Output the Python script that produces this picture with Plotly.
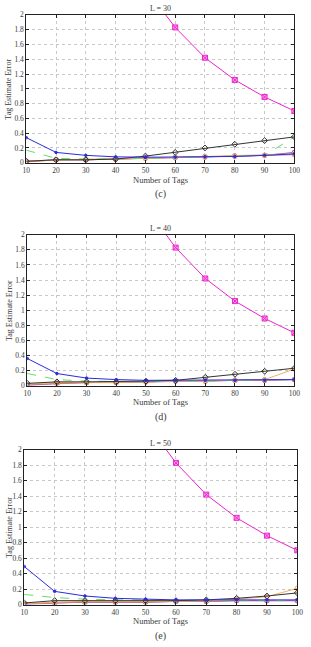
import plotly.graph_objects as go

tags = [10, 20, 30, 40, 50, 60, 70, 80, 90, 100]
x_ticks = [10, 20, 30, 40, 50, 60, 70, 80, 90, 100]
y_ticks = [0, 0.2, 0.4, 0.6, 0.8, 1, 1.2, 1.4, 1.6, 1.8, 2]
y_tick_text = ["0", "0.2", "0.4", "0.6", "0.8", "1", "1.2", "1.4", "1.6", "1.8", "2"]

# magenta curve (same in every panel; off-scale before 60)
magenta = [6.0, 4.9, 3.9, 3.05, 2.36, 1.83, 1.42, 1.12, 0.89, 0.70]

# L = 30
l30_blue = [0.34, 0.14, 0.10, 0.08, 0.075, 0.075, 0.08, 0.085, 0.10, 0.12]
l30_green = [0.17, 0.06, 0.05, 0.05, 0.06, 0.07, 0.08, 0.09, 0.10, 0.35]
l30_black = [0.02, 0.04, 0.04, 0.05, 0.09, 0.14, 0.20, 0.25, 0.30, 0.35]
l30_orange = [0.02, 0.04, 0.05, 0.05, 0.06, 0.07, 0.08, 0.09, 0.10, 0.12]
l30_red = [0.01, 0.04, 0.04, 0.05, 0.06, 0.07, 0.08, 0.09, 0.10, 0.11]
l30_purple = [0.02, 0.04, 0.04, 0.05, 0.06, 0.07, 0.08, 0.09, 0.10, 0.14]

# L = 40
l40_blue = [0.36, 0.16, 0.10, 0.08, 0.07, 0.07, 0.07, 0.07, 0.07, 0.08]
l40_green = [0.16, 0.08, 0.06, 0.05, 0.05, 0.06, 0.06, 0.07, 0.07, 0.08]
l40_black = [0.03, 0.05, 0.05, 0.05, 0.06, 0.07, 0.11, 0.15, 0.19, 0.23]
l40_orange = [0.02, 0.04, 0.04, 0.04, 0.05, 0.06, 0.06, 0.07, 0.08, 0.22]
l40_red = [0.01, 0.03, 0.04, 0.04, 0.05, 0.06, 0.06, 0.07, 0.07, 0.08]
l40_purple = [0.0, 0.03, 0.04, 0.04, 0.05, 0.06, 0.06, 0.07, 0.07, 0.08]

# L = 50
l50_blue = [0.49, 0.17, 0.11, 0.08, 0.07, 0.06, 0.06, 0.06, 0.06, 0.06]
l50_green = [0.13, 0.09, 0.07, 0.06, 0.06, 0.05, 0.05, 0.05, 0.05, 0.05]
l50_black = [0.02, 0.05, 0.05, 0.05, 0.05, 0.05, 0.06, 0.08, 0.11, 0.15]
l50_orange = [0.01, 0.03, 0.04, 0.04, 0.04, 0.04, 0.05, 0.07, 0.10, 0.21]
l50_red = [0.01, 0.02, 0.03, 0.03, 0.03, 0.04, 0.04, 0.05, 0.05, 0.05]
l50_purple = [0.0, 0.02, 0.03, 0.03, 0.03, 0.04, 0.04, 0.05, 0.05, 0.05]

titles = ["L = 30", "L = 40", "L = 50"]
captions = ["(c)", "(d)", "(e)"]

panels = [
    dict(blue=l30_blue, green=l30_green, black=l30_black, orange=l30_orange, red=l30_red, purple=l30_purple),
    dict(blue=l40_blue, green=l40_green, black=l40_black, orange=l40_orange, red=l40_red, purple=l40_purple),
    dict(blue=l50_blue, green=l50_green, black=l50_black, orange=l50_orange, red=l50_red, purple=l50_purple),
]

W, H = 311, 647
# plot area pixel boxes (left, right, top, bottom)
boxes = [(23, 300, 11, 161), (24, 300, 234, 387), (21, 303, 452, 609)]

FONT = "Liberation Serif"
TXT = "#3a3a3a"
fig = go.Figure()

styles = {
    "purple": dict(color="#9a4fe0", symbol="circle-open", dash="solid"),
    "red": dict(color="#c8707a", symbol="circle-open", dash="solid"),
    "orange": dict(color="#f0b060", symbol="circle-open", dash="solid"),
    "green": dict(color="#66dd66", symbol="circle", dash="dash"),
    "black": dict(color="#333333", symbol="diamond-open", dash="solid"),
    "blue": dict(color="#2a2ae0", symbol="circle", dash="solid"),
}

layout_axes = {}
annotations = []
for i, (p, box) in enumerate(zip(panels, boxes)):
    n = "" if i == 0 else str(i + 1)
    xa, ya = "x" + n, "y" + n
    l, r, t, b = box
    for key in ["purple", "red", "orange", "green", "black", "blue"]:
        s = styles[key]
        msize = 2.5 if key == "blue" else 4.5
        if key == "green":
            msize = 0.1
        fig.add_trace(go.Scatter(
            x=tags, y=p[key], mode="lines+markers", xaxis=xa, yaxis=ya,
            line=dict(color=s["color"], width=1, dash=s["dash"]),
            marker=dict(symbol=s["symbol"], size=msize, color=s["color"], line=dict(width=1, color=s["color"])),
            showlegend=False, hoverinfo="skip"))
    fig.add_trace(go.Scatter(
        x=tags, y=magenta, mode="lines+markers", xaxis=xa, yaxis=ya,
        line=dict(color="#ee22cc", width=1),
        marker=dict(symbol="square-x", size=5, color="#f7a6ea", line=dict(width=1, color="#ee22cc")),
        showlegend=False, hoverinfo="skip"))

    axis_common = dict(
        showline=True, linecolor="#222222", linewidth=1, mirror="allticks",
        ticks="inside", ticklen=3, tickcolor="#222222",
        showgrid=True, gridcolor="#c8c8c8", griddash="dot", gridwidth=1,
        zeroline=False, tickfont=dict(family=FONT, size=7.5, color=TXT),
    )
    layout_axes["xaxis" + n] = dict(
        axis_common, domain=[l / W, r / W], range=[10, 100],
        tickvals=x_ticks, ticktext=[str(v) for v in x_ticks],
        anchor=ya, fixedrange=True)
    layout_axes["yaxis" + n] = dict(
        axis_common, domain=[1 - b / H, 1 - t / H], range=[0, 2],
        tickvals=y_ticks, ticktext=y_tick_text, anchor=xa, fixedrange=True)

    cx = (l + r) / 2 / W
    annotations.append(dict(text=titles[i], x=cx, y=1 - (t - 6) / H, xref="paper", yref="paper",
                            showarrow=False, font=dict(family=FONT, size=8, color=TXT), yanchor="middle"))
    annotations.append(dict(text="Number of Tags", x=cx, y=1 - (b + 17) / H, xref="paper", yref="paper",
                            showarrow=False, font=dict(family=FONT, size=8.5, color=TXT), yanchor="middle"))
    annotations.append(dict(text=captions[i], x=cx, y=1 - (b + 32) / H, xref="paper", yref="paper",
                            showarrow=False, font=dict(family=FONT, size=10, color=TXT), yanchor="middle"))
    annotations.append(dict(text="Tag Estimate Error", x=5 / W, y=1 - (t + b) / 2 / H, xref="paper", yref="paper",
                            showarrow=False, textangle=-90, font=dict(family=FONT, size=8, color=TXT),
                            xanchor="center", yanchor="middle"))

fig.update_layout(
    width=W, height=H, margin=dict(l=0, r=0, t=0, b=0),
    paper_bgcolor="white", plot_bgcolor="white",
    annotations=annotations, **layout_axes)

fig.write_html("out.html", config={"displayModeBar": False})
